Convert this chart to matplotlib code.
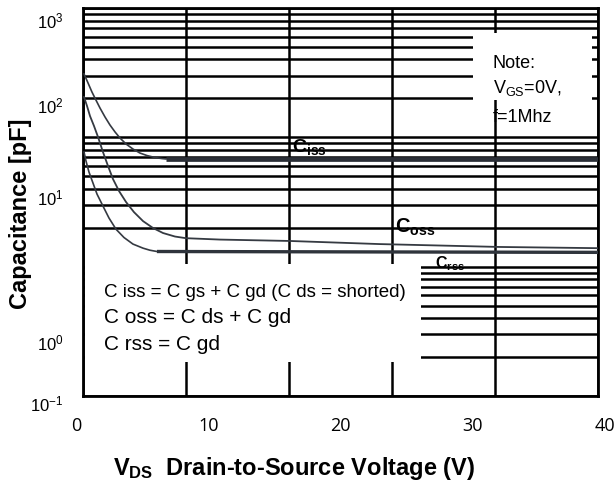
import matplotlib
matplotlib.use('Agg')
import matplotlib.pyplot as plt
from matplotlib.patches import Rectangle
from matplotlib.ticker import LogLocator, MultipleLocator, NullFormatter

plt.rcParams['font.family'] = ['Liberation Sans', 'DejaVu Sans']
plt.rcParams['mathtext.fontset'] = 'custom'
plt.rcParams['mathtext.rm'] = 'Liberation Sans'
plt.rcParams['mathtext.it'] = 'Liberation Sans:italic'
plt.rcParams['mathtext.bf'] = 'Liberation Sans:bold'

# ---------------- data ----------------
ciss_v = [0.10, 0.49, 0.87, 1.26, 1.65, 2.14, 2.62, 3.11, 3.59, 4.18, 4.85,
          5.53, 6.21, 6.99, 7.67, 8.06]
ciss_c = [309, 263, 224, 194, 168.5, 143.5, 124.5, 110, 98.8, 88.8, 81.2,
          75.6, 72.3, 69.8, 68.5, 68.0]
ciss_flat_v = [8.06, 50]
ciss_flat_c = [68.0, 68.0]

coss_v = [0.10, 0.39, 0.68, 1.07, 1.46, 1.94, 2.43, 2.91, 3.50, 4.18, 4.95,
          5.83, 6.80, 7.77, 8.93, 10.0, 13.3, 20.1, 28.8, 40.5, 50]
coss_c = [205, 174.7, 146.1, 122.3, 100.5, 76.9, 60.0, 47.6, 38.4, 31.6, 26.4,
          22.5, 19.9, 18.2, 17.1, 16.6, 16.2, 15.8, 14.95, 14.2, 13.9]

crss_v = [0.10, 0.29, 0.58, 0.97, 1.36, 1.94, 2.52, 3.20, 3.98, 4.85, 5.83,
          6.50, 7.18]
crss_c = [76.9, 65.6, 53.9, 44.3, 36.4, 29.4, 23.8, 19.5, 16.8, 14.95, 13.9,
          13.4, 13.1]
crss_flat_v = [7.18, 50]
crss_flat_c = [13.1, 12.9]

x_ticks = [0, 10, 20, 30, 40]
x_tick_labels = ['0', '10', '20', '30', '40']
y_tick_pos = [0.0, 0.159, 0.538, 0.778, 1.0]
y_tick_labels = [r'$10^{-1}$', r'$10^{0}$', r'$10^{1}$', r'$10^{2}$', r'$10^{3}$']

note_lines = ['Note:', r'V$_{\mathrm{GS}}$=0V,', 'f=1Mhz']
formula_lines = ['C iss = C gs + C gd (C ds = shorted)',
                 'C oss = C ds + C gd',
                 'C rss = C gd']

# ---------------- figure ----------------
W, H = 615, 481
fig = plt.figure(figsize=(W / 100, H / 100), dpi=100)

# outer axes: carries the tick labels and axis titles
ax0 = fig.add_axes([76 / W, (H - 403) / H, 529 / W, 383 / H])
ax0.set_xlim(0, 40)
ax0.set_ylim(0, 1)
for s in ax0.spines.values():
    s.set_visible(False)
ax0.patch.set_visible(False)
ax0.set_xticks(x_ticks, x_tick_labels, fontfamily='Open Sans', fontsize=13)
ax0.set_yticks(y_tick_pos, y_tick_labels, fontsize=12)
ax0.tick_params(axis='x', length=0, pad=10)
ax0.tick_params(axis='y', length=0, pad=9)
ax0.set_xlabel(r'$\mathbf{V_{DS}}$  Drain-to-Source Voltage (V)', fontsize=17, fontweight='bold')
ax0.xaxis.set_label_coords(0.412, -0.188)
ax0.xaxis.label.set_va('baseline')
ax0.set_ylabel('Capacitance [pF]', fontsize=17, fontweight='bold')
ax0.yaxis.set_label_coords(-0.083, 0.4935)

# inner axes: the datasheet grid with the curves
ax = fig.add_axes([83 / W, (H - 397) / H, 515 / W, 388 / H])
ax.set_xlim(0, 50)
ax.set_yscale('log')
ax.set_ylim(1, 1000)
ax.xaxis.set_major_locator(MultipleLocator(10))
ax.yaxis.set_major_locator(LogLocator(base=10))
ax.yaxis.set_minor_locator(LogLocator(base=10, subs=range(2, 10)))
ax.yaxis.set_minor_formatter(NullFormatter())
ax.set_axisbelow(True)
ax.grid(True, which='both', axis='y', color='black', lw=1.8)
ax.grid(True, which='major', axis='x', color='black', lw=1.8)
ax.tick_params(which='both', length=0, labelbottom=False, labelleft=False)
for s in ax.spines.values():
    s.set_linewidth(2.0)
    s.set_color('black')

# white boxes that hide the grid
ax.add_patch(Rectangle((0.003, 0.0876), 0.653, 0.2524, transform=ax.transAxes,
                       facecolor='white', edgecolor='none', zorder=1))
ax.add_patch(Rectangle((0.757, 0.763), 0.231, 0.173, transform=ax.transAxes,
                       facecolor='white', edgecolor='none', zorder=1))

curve_col = '#353a42'
ax.plot(ciss_v, ciss_c, color=curve_col, lw=1.2, zorder=3)
ax.plot(ciss_flat_v, ciss_flat_c, color='#2a2e36', lw=3.4, zorder=3, solid_capstyle='butt')
ax.plot(coss_v, coss_c, color=curve_col, lw=1.3, zorder=3)
ax.plot(crss_v, crss_c, color=curve_col, lw=1.2, zorder=3)
ax.plot(crss_flat_v, crss_flat_c, color='#2f343c', lw=2.4, zorder=3, solid_capstyle='butt')

# curve labels
ax.text(0.406, 0.631, r'$\mathbf{C_{iss}}$', transform=ax.transAxes, fontsize=14,
        va='baseline', zorder=4)
ax.text(0.606, 0.423, r'$\mathbf{C_{oss}}$', transform=ax.transAxes, fontsize=14.5,
        va='baseline', zorder=4)
ax.text(0.683, 0.332, r'$\mathbf{C_{rss}}$', transform=ax.transAxes, fontsize=11.5,
        va='baseline', zorder=4)

# note text
for txt, yb in zip(note_lines, [0.848, 0.784, 0.709]):
    ax.text(0.796, yb, txt, transform=ax.transAxes, fontsize=13, va='baseline', zorder=4)

# formula text
for txt, yb, fs in zip(formula_lines, [0.258, 0.191, 0.121], [13.5, 15, 15]):
    ax.text(0.041, yb, txt, transform=ax.transAxes, fontsize=fs, va='baseline', zorder=4)

fig.savefig('out.png', dpi=100)
